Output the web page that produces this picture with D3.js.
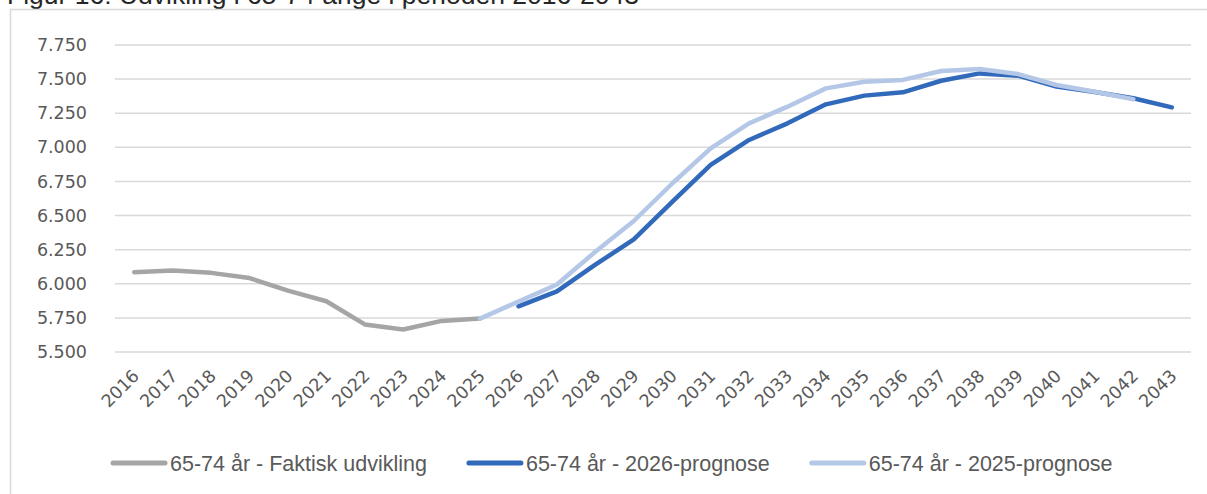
<!doctype html>
<html lang='da'>
<head>
    <meta charset='UTF-8'>
    <title>Udvikling i 65-74 årige</title>
    <style>
        body {
            margin: 0;
            background: #fff;
        }

        text {
            font-family: 'DejaVu Sans', sans-serif;
            fill: #595959;
        }

        .grid line {
            stroke: #d9d9d9;
            stroke-width: 1.5;
        }

        .line {
            fill: none;
            stroke-width: 4.5;
            stroke-linejoin: round;
            stroke-linecap: round;
        }
    </style>
</head>
<body>

<script src='https://d3js.org/d3.v7.min.js'></script>
<script>
  const years = d3.range(2016, 2044)

  const faktisk = [6085, 6098, 6080, 6042, 5950, 5872, 5702, 5665, 5728, 5745]
  const prognose2026 = [5835, 5945, 6140, 6325, 6600, 6871, 7054, 7176, 7315, 7379,
    7403, 7488, 7542, 7525, 7445, 7405, 7360, 7293]
  const prognose2025 = [5745, 5870, 5995, 6235, 6460, 6735, 6993, 7176, 7298, 7432, 7481,
    7494, 7559, 7574, 7537, 7457, 7408, 7353]

  const yTicks = [5500, 5750, 6000, 6250, 6500, 6750, 7000, 7250, 7500, 7750]

  const series = [
    { name: '65-74 år - Faktisk udvikling', start: 2016, values: faktisk, color: '#a5a5a5' },
    { name: '65-74 år - 2026-prognose', start: 2026, values: prognose2026, color: '#3169bb' },
    { name: '65-74 år - 2025-prognose', start: 2025, values: prognose2025, color: '#b4c7e7' }
  ]

  const W = 1207, H = 494

  const xScale = d3.scaleBand()
    .domain(years)
    .range([115, 1191])

  const yScale = d3.scaleLinear()
    .domain([5500, 7750])
    .range([352, 45])

  const svg = d3.select('body').append('svg')
    .attr('width', W)
    .attr('height', H)

  // title, cut off by the top of the picture (as in the source)
  svg.append('text')
    .attr('x', 7)
    .attr('y', 4)
    .style('font-family', "'Liberation Sans', sans-serif")
    .style('font-size', '26.5px')
    .style('fill', '#262626')
    .text('Figur 16: Udvikling i 65-74 årige i perioden 2016-2043')

  // chart frame
  svg.append('rect')
    .attr('x', 10.5)
    .attr('y', 9.5)
    .attr('width', W + 20)
    .attr('height', H + 20)
    .attr('fill', 'none')
    .attr('stroke', '#d9d9d9')
    .attr('stroke-width', 1.5)

  //// grid ////
  svg.append('g')
    .attr('class', 'grid')
    .selectAll('line')
    .data(yTicks)
    .enter()
    .append('line')
    .attr('x1', xScale.range()[0])
    .attr('x2', xScale.range()[1])
    .attr('y1', d => yScale(d))
    .attr('y2', d => yScale(d))

  //// axes ////
  const yAxis = svg.append('g')
    .attr('transform', 'translate(115,0)')
    .call(d3.axisLeft(yScale)
      .tickValues(yTicks)
      .tickFormat(d => d3.format('.3f')(d / 1000))
      .tickSizeInner(0)
      .tickSizeOuter(0)
      .tickPadding(28))
  yAxis.select('.domain').remove()
  yAxis.selectAll('text')
    .style('font-size', '17.5px')
    .style('font-family', "'DejaVu Sans', sans-serif")
    .attr('fill', '#595959')

  const xAxis = svg.append('g')
    .attr('transform', 'translate(0,352)')
    .call(d3.axisBottom(xScale)
      .tickSizeInner(0)
      .tickSizeOuter(0))
  xAxis.select('.domain').remove()
  xAxis.selectAll('text')
    .style('font-size', '17.5px')
    .style('font-family', "'DejaVu Sans', sans-serif")
    .attr('fill', '#595959')
    .attr('text-anchor', 'end')
    .attr('dy', null)
    .attr('y', 0)
    .attr('transform', 'translate(6,25) rotate(-45)')

  //// lines ////
  const cx = yr => xScale(yr) + xScale.bandwidth() / 2
  const line = d3.line()
    .x(d => cx(d.year))
    .y(d => yScale(d.value))

  svg.append('g')
    .selectAll('path')
    .data(series)
    .enter()
    .append('path')
    .attr('class', 'line')
    .attr('stroke', d => d.color)
    .attr('d', d => line(d.values.map((v, i) => ({ year: d.start + i, value: v }))))

  //// legend ////
  const legend = svg.append('g')
    .attr('transform', 'translate(0,463)')
  let lx = 111
  series.forEach(s => {
    legend.append('line')
      .attr('x1', lx + 2)
      .attr('x2', lx + 54)
      .attr('stroke', s.color)
      .attr('stroke-width', 5)
      .attr('stroke-linecap', 'round')
    const t = legend.append('text')
      .attr('x', lx + 59)
      .attr('dy', '0.35em')
      .style('font-family', "'Liberation Sans', sans-serif")
      .style('font-size', '21.5px')
      .text(s.name)
    lx += 59 + t.node().getComputedTextLength() + 40
  })
</script>
</body>
</html>
